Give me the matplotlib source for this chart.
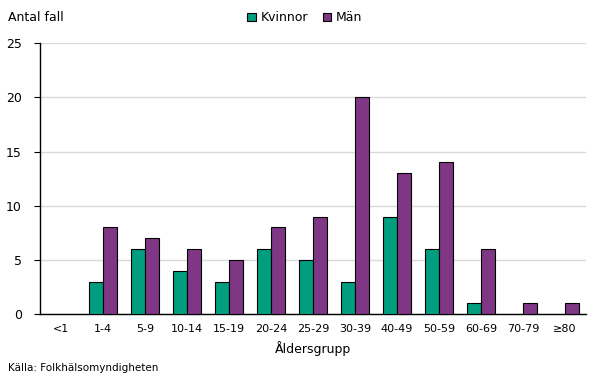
import matplotlib.pyplot as plt
import numpy as np

# age groups and number of cases
groups = ['<1', '1-4', '5-9', '10-14', '15-19', '20-24', '25-29',
          '30-39', '40-49', '50-59', '60-69', '70-79', '≥80']
kvinnor = [0, 3, 6, 4, 3, 6, 5, 3, 9, 6, 1, 0, 0]
man = [0, 8, 7, 6, 5, 8, 9, 20, 13, 14, 6, 1, 1]

teal = '#009E7E'
purple = '#7F3785'

plt.rcParams['font.family'] = 'DejaVu Sans'
plt.rcParams['font.size'] = 8

fig = plt.figure(figsize=(6.04, 3.78), dpi=100)
ax = fig.add_axes([0.066, 0.169, 0.904, 0.717])

x = np.arange(len(groups))
w = 0.34
# skip zero-height bars so no outline shows at the baseline
kv = np.array(kvinnor)
mn = np.array(man)
ax.bar(x[kv > 0] - w/2, kv[kv > 0], w, color=teal, edgecolor='black',
       linewidth=0.8, label='Kvinnor', zorder=3)
ax.bar(x[mn > 0] + w/2, mn[mn > 0], w, color=purple, edgecolor='black',
       linewidth=0.8, label='Män', zorder=3)

ax.set_xlim(-0.5, len(groups) - 0.5)
ax.set_ylim(0, 25)
ax.set_yticks(range(0, 26, 5))
ax.set_xticks(x)
ax.set_xticklabels(groups)
ax.tick_params(axis='x', length=0, pad=7)
ax.tick_params(axis='y', length=4, direction='out', pad=9, labelsize=9)
ax.yaxis.grid(True, color='#d9d9d9', linewidth=1, zorder=0)
for s in ['top', 'right']:
    ax.spines[s].set_visible(False)
ax.spines['left'].set_linewidth(1)
ax.spines['bottom'].set_linewidth(1)

ax.set_xlabel('Åldersgrupp', fontsize=9, labelpad=5)
fig.text(0.013, 0.955, 'Antal fall', fontsize=9, va='center', ha='left')
fig.text(0.013, 0.027, 'Källa: Folkhälsomyndigheten', fontsize=7.5,
         va='center', ha='left')

ax.legend(loc='center', bbox_to_anchor=(0.505, 0.9525), bbox_transform=fig.transFigure,
          ncol=2, frameon=False, fontsize=9, handlelength=0.65, handleheight=0.65,
          columnspacing=1.2, handletextpad=0.4)

plt.savefig('out.png', dpi=100)
